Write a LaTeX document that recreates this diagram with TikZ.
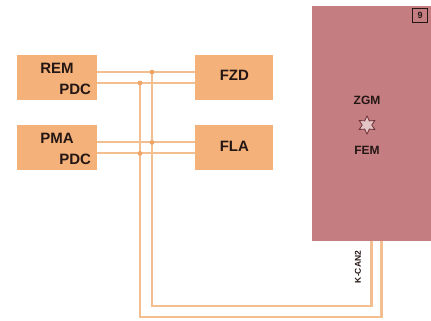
\documentclass[tikz,border=0pt]{standalone}
\usepackage{fontspec}
\setmainfont{Liberation Sans}
\usepackage{xcolor}
\definecolor{cBox}{HTML}{F4B27A}
\definecolor{cWire}{HTML}{F3BE90}
\definecolor{cDot}{HTML}{EFA468}
\definecolor{cEcu}{HTML}{C47E82}
\definecolor{cStar}{HTML}{6E3236}
\definecolor{cText}{HTML}{241614}
\usepackage{tikz}
\usetikzlibrary{positioning,shapes.geometric,calc}
\tikzset{
  node-box/.style={fill=cBox,minimum height=45pt,inner sep=0pt},
  node-ecu/.style={fill=cEcu,minimum width=119pt,minimum height=235pt,inner sep=0pt},
  txt/.style={text=cText,inner sep=0pt,font=\bfseries\fontsize{15}{15}\selectfont},
  txt-small/.style={txt,font=\bfseries\fontsize{12}{12}\selectfont},
  wire/.style={draw=cWire,line width=2.1pt},
  junction/.style={fill=cDot},
}
\begin{document}
\begin{tikzpicture}[x=1pt,y=1pt,node distance=25pt and 98pt]
  \useasboundingbox (0,0) rectangle (431,321);
  % steuergeraete
  \node[node-box,minimum width=80pt] (rem) at (57,243.5) {};
  \node[node-box,minimum width=80pt,below=of rem] (pma) {};
  \node[node-box,minimum width=78pt,right=of rem] (fzd) {};
  \node[node-box,minimum width=78pt,right=of pma] (fla) {};
  \node[node-ecu] (zgm) at (371.5,197.5) {};
  \node[txt] at ([yshift=9.5pt]rem.center) {REM};
  \node[txt,anchor=east] at ([xshift=-6pt,yshift=-11.5pt]rem.east) {PDC};
  \node[txt] at ([yshift=9.5pt]pma.center) {PMA};
  \node[txt,anchor=east] at ([xshift=-6pt,yshift=-11.5pt]pma.east) {PDC};
  \node[txt] at ([yshift=2pt]fzd.center) {FZD};
  \node[txt] at ([yshift=2pt]fla.center) {FLA};
  \node[txt-small] (zgmtxt) at (367,221) {ZGM};
  \node[star,star points=6,star point ratio=1.9,minimum size=18pt,inner sep=0pt,
    draw=cStar,line width=0.8pt,fill=cEcu!45!white] (gw) at (367,196) {};
  \node[txt-small] (femtxt) at (367,171) {FEM};
  \node[draw=cText,line width=0.9pt,minimum width=15pt,minimum height=14pt,inner sep=0pt,
    text=cText,font=\bfseries\fontsize{9}{9}\selectfont] (tag) at (420,306) {9};
  \node[txt,font=\bfseries\fontsize{8.5}{8.5}\selectfont,rotate=90] (kcan) at (358,54) {K-CAN2};
  % K-CAN2 leitungen
  \coordinate (busA) at (152,15);
  \coordinate (busB) at (140,4);
  \coordinate (remA) at ([yshift=5.5pt]rem.east);
  \coordinate (remB) at ([yshift=-5.5pt]rem.east);
  \coordinate (pmaA) at ([yshift=5.5pt]pma.east);
  \coordinate (pmaB) at ([yshift=-5.5pt]pma.east);
  \foreach \p in {remA,remB,pmaA,pmaB}
    \draw[wire] (\p) -- (\p -| fzd.west);
  \draw[wire] (remA -| busA) -- (busA) -| (zgm.south);
  \draw[wire] (remB -| busB) -- (busB) -| ([xshift=10pt]zgm.south);
  \foreach \p in {remA,pmaA}
    \fill[junction] (\p -| busA) circle (2.4pt);
  \foreach \p in {remB,pmaB}
    \fill[junction] (\p -| busB) circle (2.4pt);
\end{tikzpicture}
\end{document}
